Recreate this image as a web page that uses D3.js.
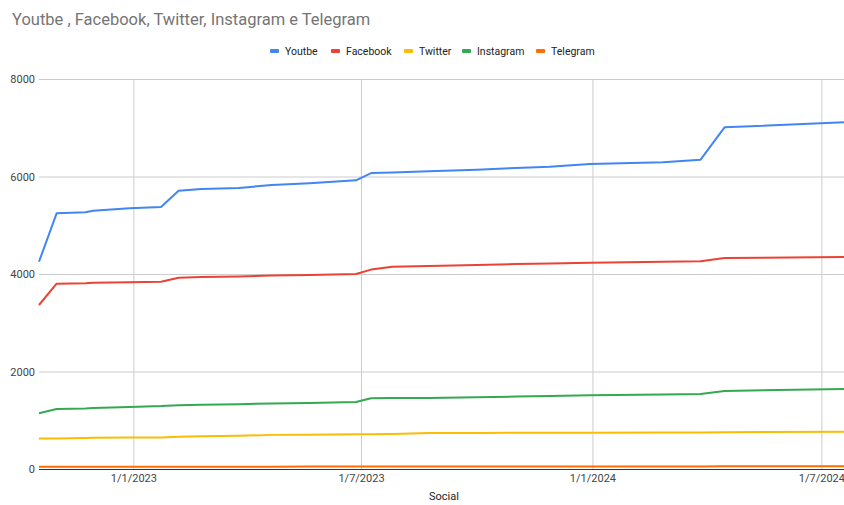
<!DOCTYPE html>
<html>
<head>
<meta charset="utf-8">
<script src="https://cdn.jsdelivr.net/npm/d3@7"></script>
<style>
  body { margin: 0; background: #fff; }
  svg { font-family: Roboto, Arial, sans-serif; }
</style>
</head>
<body>
<div id="chart"></div>
<script>
/* global d3 */

// Data
const dates = ['2022-10-18', '2022-11-01', '2022-11-24', '2022-11-30', '2022-12-29',
  '2023-01-23', '2023-02-06', '2023-02-24', '2023-03-26', '2023-04-21', '2023-05-21',
  '2023-06-27', '2023-07-09', '2023-07-26', '2023-08-24', '2023-10-01', '2023-11-01',
  '2023-11-28', '2023-12-30', '2024-02-26', '2024-03-27', '2024-04-15', '2024-07-19']
const youtbe = [4252, 5245, 5266, 5299, 5347, 5374, 5709, 5744, 5764, 5826, 5860,
  5922, 6070, 6080, 6110, 6140, 6175, 6200, 6255, 6291, 6345, 7009, 7112]
const facebook = [3364, 3801, 3810, 3820, 3830, 3842, 3924, 3940, 3950, 3968, 3980,
  4000, 4090, 4150, 4164, 4185, 4205, 4215, 4232, 4250, 4260, 4328, 4349]
const twitter = [626, 628, 635, 640, 645, 648, 660, 670, 680, 700, 705,
  712, 715, 718, 738, 740, 742, 743, 745, 748, 750, 755, 765]
const instagram = [1142, 1231, 1240, 1250, 1270, 1290, 1310, 1320, 1330, 1345, 1355,
  1374, 1450, 1455, 1458, 1470, 1485, 1498, 1511, 1528, 1538, 1600, 1641]
const telegram = [45, 46, 46, 46, 47, 47, 47, 48, 48, 48, 49,
  49, 50, 50, 50, 51, 51, 52, 52, 53, 53, 54, 55]
const seriesNames = ['Youtbe', 'Facebook', 'Twitter', 'Instagram', 'Telegram']
const yTicks = [0, 2000, 4000, 6000, 8000]
const xTicks = ['2023-01-01', '2023-07-01', '2024-01-01', '2024-07-01']

const colors = ['#4285f4', '#ea4335', '#fbbc04', '#34a853', '#ff6d01']
const width = 844,
  height = 505,
  plotLeft = 39,
  plotRight = 844,
  plotTop = 79,
  plotBottom = 469

const parse = d3.timeParse('%Y-%m-%d')
const series = [youtbe, facebook, twitter, instagram, telegram].map((vals, i) => ({
  name: seriesNames[i],
  color: colors[i],
  points: vals.map((v, j) => ({ date: parse(dates[j]), value: v }))
}))

let svg = d3.select('#chart')
  .append('svg')
  .attr('width', width)
  .attr('height', height)

const x = d3.scaleTime()
  .domain([parse('2022-10-18'), parse('2024-07-19')])
  .range([plotLeft, plotRight])

const y = d3.scaleLinear()
  .domain([0, 8000])
  .range([plotBottom, plotTop])

// title
svg.append('text')
  .attr('x', 12)
  .attr('y', 25)
  .attr('fill', '#757575')
  .style('font-size', '16.5px')
  .text('Youtbe , Facebook, Twitter, Instagram e Telegram')

// gridlines
svg.append('g')
  .attr('transform', `translate(${plotLeft},0)`)
  .call(d3.axisLeft(y).tickValues(yTicks.slice(1)).tickSize(-(plotRight - plotLeft)).tickFormat(''))
  .call(g => g.select('.domain').remove())
  .call(g => g.selectAll('line').attr('stroke', '#cccccc'))

svg.append('g')
  .attr('transform', `translate(0,${plotBottom})`)
  .call(d3.axisBottom(x).tickValues(xTicks.map(parse)).tickSize(-(plotBottom - plotTop)).tickFormat(''))
  .call(g => g.select('.domain').remove())
  .call(g => g.selectAll('line').attr('stroke', '#cccccc'))

// y labels
svg.append('g')
  .attr('transform', `translate(${plotLeft},0)`)
  .call(d3.axisLeft(y).tickValues(yTicks).tickSize(0).tickPadding(4).tickFormat(d3.format('d')))
  .call(g => g.select('.domain').remove())
  .call(g => g.selectAll('text').attr('fill', '#444').style('font-size', '11px').style('font-family', 'Roboto, Arial, sans-serif'))

// x labels
const fmt = d => `${d.getDate()}/${d.getMonth() + 1}/${d.getFullYear()}`
svg.append('g')
  .attr('transform', `translate(0,${plotBottom})`)
  .call(d3.axisBottom(x).tickValues(xTicks.map(parse)).tickSize(0).tickPadding(5).tickFormat(fmt))
  .call(g => g.select('.domain').remove())
  .call(g => g.selectAll('text').attr('fill', '#444').style('font-size', '11px').style('font-family', 'Roboto, Arial, sans-serif'))

// axis title
svg.append('text')
  .attr('x', 444)
  .attr('y', 500)
  .attr('text-anchor', 'middle')
  .attr('fill', '#222')
  .style('font-size', '11px')
  .text('Social')

// lines
const line = d3.line()
  .x(d => x(d.date))
  .y(d => y(d.value))

svg.append('g')
  .selectAll('path')
  .data(series)
  .enter()
  .append('path')
  .attr('d', d => line(d.points))
  .attr('fill', 'none')
  .attr('stroke', d => d.color)
  .attr('stroke-width', 2)
  .attr('stroke-linejoin', 'round')

// baseline
svg.append('line')
  .attr('x1', plotLeft).attr('x2', plotRight)
  .attr('y1', y(0) + 0.5).attr('y2', y(0) + 0.5)
  .attr('stroke', '#333')
  .attr('stroke-width', 1)

// legend
const legendX = [270, 331, 404, 462, 536]
const legend = svg.append('g')
  .selectAll('g')
  .data(series)
  .enter()
  .append('g')
  .attr('transform', (d, i) => `translate(${legendX[i]},51)`)

legend.append('rect')
  .attr('x', 0).attr('y', -2)
  .attr('width', 9).attr('height', 4)
  .attr('rx', 1)
  .attr('fill', d => d.color)

legend.append('text')
  .attr('x', 15)
  .attr('y', 4)
  .attr('fill', '#222')
  .style('font-size', '10.5px')
  .text(d => d.name)
</script>
</body>
</html>
